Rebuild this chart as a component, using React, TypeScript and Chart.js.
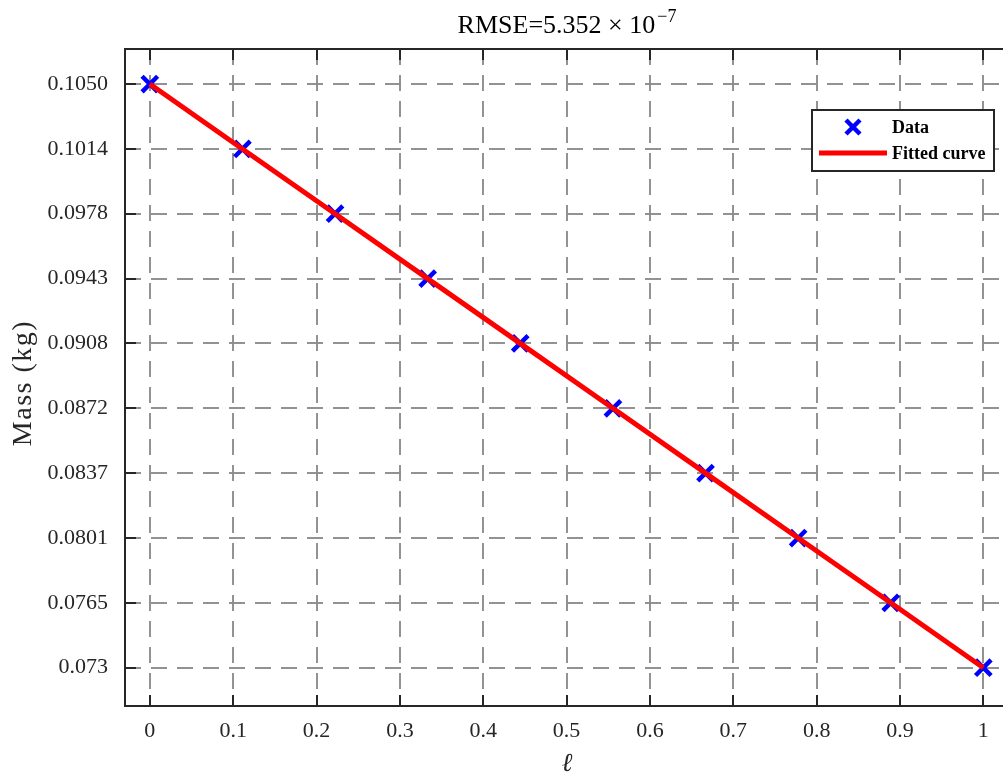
import React, { useEffect, useRef } from "react";
import { Chart, registerables } from "chart.js";

Chart.register(...registerables);

// ---- data ----
const ellValues = [0, 0.1111, 0.2222, 0.3333, 0.4444, 0.5556, 0.6667, 0.7778, 0.8889, 1];
const massData = [0.105, 0.10144, 0.09789, 0.09433, 0.09078, 0.08722, 0.08367, 0.08011, 0.07656, 0.073];
const fittedMass = [0.105, 0.10144, 0.09789, 0.09433, 0.09078, 0.08722, 0.08367, 0.08011, 0.07656, 0.073];

const xTickValues = [0, 0.1, 0.2, 0.3, 0.4, 0.5, 0.6, 0.7, 0.8, 0.9, 1];
const xTickLabels = ["0", "0.1", "0.2", "0.3", "0.4", "0.5", "0.6", "0.7", "0.8", "0.9", "1"];
const yTickValues = [0.073, 0.07656, 0.08011, 0.08367, 0.08722, 0.09078, 0.09433, 0.09789, 0.10144, 0.105];
const yTickLabels = ["0.073", "0.0765", "0.0801", "0.0837", "0.0872", "0.0908", "0.0943", "0.0978", "0.1014", "0.1050"];

const titleMain = "RMSE=5.352 \u00D7 10";
const titleSup = "\u22127";
const xTitle = "\u2113";
const yTitle = "Mass (kg)";
const legendLabels = ["Data", "Fitted curve"];

const SERIF = "'Liberation Serif', 'DejaVu Serif', serif";
const AXIS = "#262626";
const CANVAS_W = 1033;
const CANVAS_H = 778;
const TEXT_CENTER_X = 567;

const decorPlugin = {
  id: "decor",
  afterDraw(chart: any) {
    const { ctx, chartArea: a, scales } = chart;
    const xs = scales.x;
    const ys = scales.y;
    ctx.save();
    const line = (x1: number, y1: number, x2: number, y2: number) => {
      ctx.beginPath();
      ctx.moveTo(x1, y1);
      ctx.lineTo(x2, y2);
      ctx.stroke();
    };
    // inward ticks
    ctx.strokeStyle = AXIS;
    ctx.lineWidth = 2;
    ctx.setLineDash([]);
    xTickValues.forEach((v) => {
      const px = Math.round(xs.getPixelForValue(v));
      line(px, a.bottom, px, a.bottom - 11);
      line(px, a.top, px, a.top + 11);
    });
    yTickValues.forEach((v) => {
      const py = Math.round(ys.getPixelForValue(v));
      line(a.left, py, a.left + 11, py);
      line(a.right, py, a.right - 11, py);
    });
    // frame
    ctx.strokeRect(a.left, a.top, a.right - a.left, a.bottom - a.top);

    // title
    ctx.fillStyle = "#000";
    ctx.textBaseline = "alphabetic";
    ctx.font = `26px ${SERIF}`;
    const wMain = ctx.measureText(titleMain).width;
    ctx.font = `18px ${SERIF}`;
    const wSup = ctx.measureText(titleSup).width;
    const cx = TEXT_CENTER_X;
    const tx = cx - (wMain + wSup + 2) / 2;
    ctx.font = `26px ${SERIF}`;
    ctx.textAlign = "left";
    ctx.fillText(titleMain, tx, 33);
    ctx.font = `18px ${SERIF}`;
    ctx.fillText(titleSup, tx + wMain + 2, 22);

    // axis titles
    ctx.font = `italic 26px ${SERIF}`;
    ctx.textAlign = "center";
    ctx.fillStyle = AXIS;
    ctx.fillText(xTitle, cx, 771);
    ctx.save();
    ctx.translate(31, 383);
    ctx.rotate(-Math.PI / 2);
    ctx.font = `28px ${SERIF}`;
    try {
      (ctx as any).letterSpacing = "1.5px";
    } catch (e) {}
    ctx.textBaseline = "alphabetic";
    ctx.fillText(yTitle, 0, 0);
    ctx.restore();

    // legend
    const bx = 812, by = 110, bw = 182, bh = 61;
    ctx.fillStyle = "#fff";
    ctx.fillRect(bx, by, bw, bh);
    ctx.strokeStyle = AXIS;
    ctx.lineWidth = 2;
    ctx.strokeRect(bx, by, bw, bh);
    // marker
    ctx.strokeStyle = "#0000ff";
    ctx.lineWidth = 4.5;
    const mx = 853, my = 127, r = 7;
    line(mx - r, my - r, mx + r, my + r);
    line(mx - r, my + r, mx + r, my - r);
    // red line
    ctx.strokeStyle = "#ff0000";
    ctx.lineWidth = 5;
    line(819, 153, 887, 153);
    ctx.fillStyle = "#000";
    ctx.font = `bold 18px ${SERIF}`;
    ctx.textAlign = "left";
    ctx.textBaseline = "middle";
    ctx.fillText(legendLabels[0], 892, 128);
    ctx.fillText(legendLabels[1], 892, 154);
    ctx.restore();
  },
};

export default function App() {
  const ref = useRef<HTMLCanvasElement | null>(null);
  useEffect(() => {
    if (!ref.current) return;
    const gridColor = "rgba(140,140,140,0.95)";
    const chart = new Chart(ref.current, {
      type: "scatter",
      data: {
        datasets: [
          {
            type: "line",
            label: legendLabels[1],
            data: ellValues.map((x, i) => ({ x, y: fittedMass[i] })),
            borderColor: "#ff0000",
            borderWidth: 5,
            pointRadius: 0,
            fill: false,
            tension: 0,
            order: 0,
          } as any,
          {
            type: "scatter",
            label: legendLabels[0],
            data: ellValues.map((x, i) => ({ x, y: massData[i] })),
            pointStyle: "crossRot",
            pointRadius: 11,
            pointBorderWidth: 4.5,
            borderColor: "#0000ff",
            backgroundColor: "#0000ff",
            order: 1,
          } as any,
        ],
      },
      options: {
        animation: false,
        responsive: false,
        maintainAspectRatio: false,
        events: [],
        layout: { padding: { top: 49, right: 8, left: 0, bottom: 0 } },
        plugins: { legend: { display: false }, tooltip: { enabled: false }, title: { display: false } },
        scales: {
          x: {
            type: "linear",
            min: -0.0298,
            max: 1.041,
            afterBuildTicks: (s: any) => {
              s.ticks = xTickValues.map((v) => ({ value: v }));
            },
            afterFit: (s: any) => {
              s.height = 72;
            },
            ticks: {
              callback: (_v: any, i: number) => xTickLabels[i],
              font: { family: SERIF, size: 22 },
              color: AXIS,
              padding: 12,
              maxRotation: 0,
              autoSkip: false,
            },
            grid: { color: gridColor, lineWidth: 2, drawTicks: false },
            border: { display: false, dash: [16, 10] },
          },
          y: {
            type: "linear",
            min: 0.0709,
            max: 0.10692,
            afterBuildTicks: (s: any) => {
              s.ticks = yTickValues.map((v) => ({ value: v }));
            },
            afterFit: (s: any) => {
              s.width = 125;
            },
            ticks: {
              callback: (_v: any, i: number) => yTickLabels[i],
              font: { family: SERIF, size: 22 },
              color: AXIS,
              padding: 17,
              autoSkip: false,
            },
            grid: { color: gridColor, lineWidth: 2, drawTicks: false },
            border: { display: false, dash: [16, 10] },
          },
        },
      } as any,
      plugins: [decorPlugin],
    });
    return () => chart.destroy();
  }, []);
  return (
    <div style={{ position: "fixed", left: 0, top: 0, width: 1003, height: 778, overflow: "hidden", background: "#fff" }}>
      <canvas
        ref={ref}
        width={CANVAS_W}
        height={CANVAS_H}
        style={{ display: "block", width: CANVAS_W + "px", height: CANVAS_H + "px", maxWidth: "none" }}
      />
    </div>
  );
}
